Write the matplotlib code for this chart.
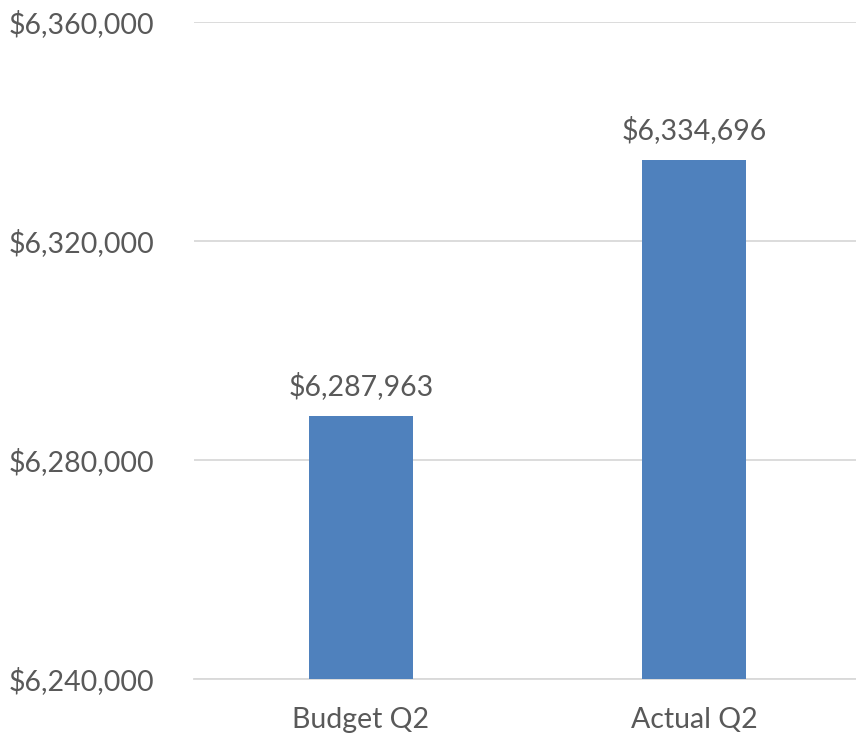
import matplotlib
matplotlib.use('Agg')
import matplotlib.pyplot as plt
from matplotlib.ticker import FuncFormatter

categories = ['Budget Q2', 'Actual Q2']
values = [6287963, 6334696]
yticks = [6240000, 6280000, 6320000, 6360000]

plt.rcParams['font.family'] = ['Lato', 'DejaVu Sans']
txt = '#595959'
grid = '#D9D9D9'

fig = plt.figure(figsize=(8.56, 7.35), dpi=100)
ax = fig.add_axes([0.227, 0.0762, 0.779, 0.894])

x = range(len(categories))
ax.bar(x, values, width=0.312, color='#4F81BD', zorder=3)
for i, v in zip(x, values):
    ax.annotate(f'${v:,}', (i, v), xytext=(0, 12), textcoords='offset points',
                ha='center', va='bottom', fontsize=20.5, color=txt)

ax.set_xlim(-0.5, 1.5)
ax.set_ylim(yticks[0], yticks[-1])
ax.set_yticks(yticks)
ax.yaxis.set_major_formatter(FuncFormatter(lambda v, p: f'${v:,.0f}'))
ax.set_xticks(list(x))
ax.set_xticklabels(categories)
ax.tick_params(axis='both', length=0, labelsize=20.5, labelcolor=txt)
ax.tick_params(axis='y', pad=29)
ax.tick_params(axis='x', pad=20)
ax.grid(axis='y', color=grid, linewidth=1.3, zorder=0)
for s in ['top', 'right', 'left']:
    ax.spines[s].set_visible(False)
ax.spines['bottom'].set_color(grid)
ax.spines['bottom'].set_linewidth(1.3)

fig.savefig('out.png', dpi=100)
